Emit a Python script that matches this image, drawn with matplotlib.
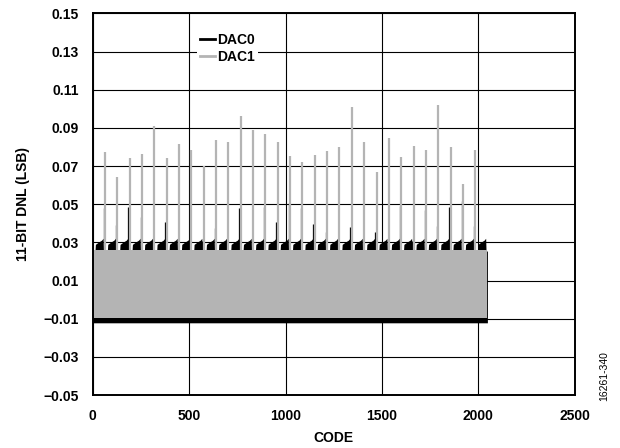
import numpy as np
import matplotlib
matplotlib.use('Agg')
import matplotlib.pyplot as plt

# Dados
N_CODES = 2048
SEG = 64
SPIKE_CODES = [64 * k for k in range(1, 32)]

# Picos do DAC1 (cinza), um por segmento de 64 codigos
DAC1_SPIKES = [0.0775, 0.0641, 0.0742, 0.0763, 0.0909, 0.0742, 0.0815, 0.0786,
               0.0701, 0.0838, 0.0827, 0.0965, 0.0889, 0.0868, 0.0827, 0.0754,
               0.0723, 0.0760, 0.0779, 0.0798, 0.1009, 0.0824, 0.0671, 0.0847,
               0.0749, 0.0803, 0.0787, 0.1022, 0.0801, 0.0604, 0.0784]

# Picos do DAC0 (preto), alguns escondidos atras dos picos cinzas
DAC0_SPIKES = [0.0479, 0.0392, 0.0484, 0.0436, 0.0310, 0.0408, 0.0310, 0.0310,
               0.0310, 0.0375, 0.0310, 0.0479, 0.0310, 0.0488, 0.0408, 0.0505,
               0.0479, 0.0398, 0.0354, 0.0310, 0.0380, 0.0310, 0.0354, 0.0310,
               0.0493, 0.0310, 0.0471, 0.0385, 0.0484, 0.0519, 0.0385]

# Faixa de ruido de cada DAC
DAC1_LOW, DAC1_HIGH = -0.0098, 0.0258
DAC0_LOW = -0.0121

# Perfil do topo do DAC0 dentro de um segmento (offset, valor)
SEG_OFFSETS = [0, 12, 14, 30, 46, 54, 56, 64]
SEG_TOP = [0.0255, 0.0255, 0.0290, 0.0302, 0.0312, 0.0322, 0.0255, 0.0255]

Y_TICKS = [-0.05, -0.03, -0.01, 0.01, 0.03, 0.05, 0.07, 0.09, 0.11, 0.13, 0.15]
X_TICKS = [0, 500, 1000, 1500, 2000, 2500]

GRAY = '#b4b4b4'

plt.rcParams['font.family'] = ['Liberation Sans', 'DejaVu Sans']
plt.rcParams['font.weight'] = 'bold'
plt.rcParams['font.size'] = 10

fig = plt.figure(figsize=(6.2, 4.48), dpi=100)
ax = fig.add_axes([0.1495, 0.118, 0.7775, 0.852])

# Envelope do DAC0
codes = np.arange(N_CODES)
offs = codes % SEG
dac0_top = np.interp(offs, SEG_OFFSETS, SEG_TOP)

ax.fill_between(codes, DAC0_LOW, dac0_top, color='black', linewidth=0, zorder=2)
ax.vlines(np.array(SPIKE_CODES) - 7, 0.025, DAC0_SPIKES, color='black', linewidth=0.9, zorder=2)

ax.fill_between([0, N_CODES - 1], DAC1_LOW, DAC1_HIGH, color=GRAY, linewidth=0, zorder=3)
ax.vlines(SPIKE_CODES, 0.025, DAC1_SPIKES, color=GRAY, linewidth=1.6, zorder=3)

# Linhas so para a legenda
ax.plot([], [], color='black', linewidth=2, label='DAC0')
ax.plot([], [], color=GRAY, linewidth=2, label='DAC1')

ax.set_xlim(0, 2500)
ax.set_ylim(-0.05, 0.15)
ax.set_xticks(X_TICKS)
ax.set_yticks(Y_TICKS)
ax.set_yticklabels([f'{v:.2f}'.replace('-', '\u2212') for v in Y_TICKS])
ax.tick_params(length=0, pad=10)
ax.grid(True, color='black', linewidth=0.8)
ax.set_axisbelow(True)
for s in ax.spines.values():
    s.set_linewidth(1.4)
    s.set_zorder(5)

ax.set_xlabel('CODE', fontweight='bold', labelpad=6)
ax.set_ylabel('11-BIT DNL (LSB)', fontweight='bold', labelpad=10)

leg = ax.legend(loc='upper left', bbox_to_anchor=(197 / 620, 1 - 30 / 448),
                bbox_transform=fig.transFigure, frameon=True, fancybox=False,
                edgecolor='none', framealpha=1, handlelength=1.1, handletextpad=0.15,
                labelspacing=0.25, borderpad=0.2, borderaxespad=0)
leg.set_zorder(6)

fig.text(0.975, 0.16, '16261-340', rotation=90, fontsize=7.5, fontweight='normal',
         ha='center', va='center')

fig.savefig('out.png', dpi=100)
